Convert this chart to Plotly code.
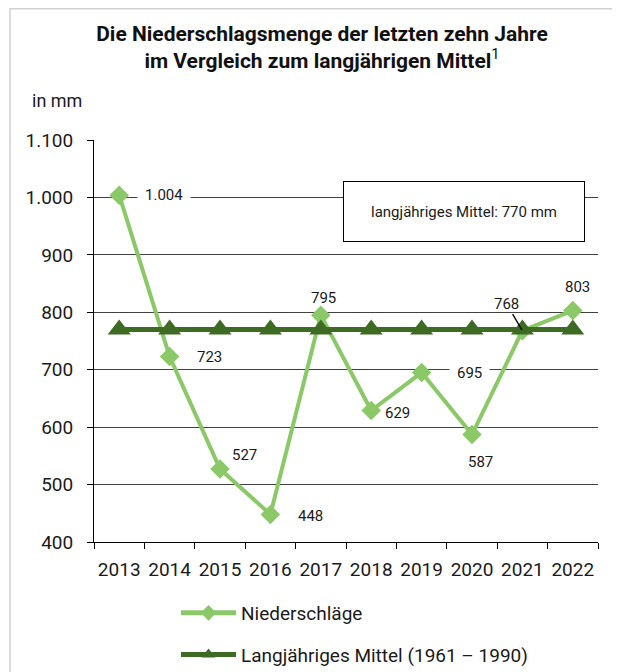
import plotly.graph_objects as go

years = [2013, 2014, 2015, 2016, 2017, 2018, 2019, 2020, 2021, 2022]
year_labels = ["2013", "2014", "2015", "2016", "2017", "2018", "2019", "2020", "2021", "2022"]
niederschlag = [1004, 723, 527, 448, 795, 629, 695, 587, 768, 803]
mittel = [770, 770, 770, 770, 770, 770, 770, 770, 770, 770]
y_tickvals = [400, 500, 600, 700, 800, 900, 1000, 1100]
y_ticktext = ["400", "500", "600", "700", "800", "900", "1.000", "1.100"]

# label offsets in px (dx right, dy down) relative to each point
label_offsets = [(45, 0), (40, 0), (24, -14), (40, 2), (3, -17), (26, 3), (48, 0), (8, 27), None, (5, -24)]
label_bg = [True, False, False, False, False, False, True, False, False, False]

FONT = "Roboto, Liberation Sans, sans-serif"
LIGHT = "#8BC867"
DARK = "#3E6B24"
TXT = "#1a1a1a"

W, H = 612, 664
ML, MR, MT, MB = 86, 22, 132, 130
PW, PH = W - ML - MR, H - MT - MB


def px(xf):
    return (xf - ML) / PW


def py(yf):
    return (H - MB - yf) / PH


def fmt(v):
    return f"{v:,}".replace(",", ".")


fig = go.Figure()
fig.add_trace(go.Scatter(
    x=years, y=niederschlag, name="Niederschläge", mode="lines+markers",
    line=dict(color=LIGHT, width=4),
    marker=dict(symbol="diamond", size=15, color=LIGHT),
    legendgroup="a"))
fig.add_trace(go.Scatter(
    x=years, y=mittel, name="Langjähriges Mittel (1961 – 1990)", mode="lines+markers",
    line=dict(color=DARK, width=5),
    marker=dict(symbol="triangle-up", size=20, color=DARK),
    legendgroup="b"))

annotations = []
for yr, v, off, bg in zip(years, niederschlag, label_offsets, label_bg):
    if off is None:
        annotations.append(dict(
            x=yr, y=v, xref="x", yref="y", text=fmt(v), showarrow=True,
            arrowhead=0, arrowwidth=1.3, arrowcolor="black", ax=-16, ay=-27,
            standoff=1, font=dict(family=FONT, size=15, color=TXT)))
    else:
        annotations.append(dict(
            x=yr, y=v, xref="x", yref="y", text=fmt(v), showarrow=False,
            xshift=off[0], yshift=-off[1],
            bgcolor="white" if bg else "rgba(0,0,0,0)", borderpad=7 if bg else 0,
            font=dict(family=FONT, size=15, color=TXT)))

annotations.append(dict(
    x=px(456), y=py(203), xref="paper", yref="paper",
    xanchor="center", yanchor="middle",
    text="langjähriges Mittel: 770 mm", showarrow=False,
    width=238, height=57, bgcolor="white", bordercolor="black", borderwidth=1,
    font=dict(family=FONT, size=15, color=TXT)))
annotations.append(dict(
    x=px(22), y=py(92), xref="paper", yref="paper",
    xanchor="left", yanchor="middle", text="in mm", showarrow=False,
    font=dict(family=FONT, size=18, color=TXT)))

boundaries = [years[0] - 0.5] + [y + 0.5 for y in years]

fig.update_layout(
    width=W, height=H,
    margin=dict(l=ML, r=MR, t=MT, b=MB, autoexpand=False),
    paper_bgcolor="white", plot_bgcolor="white",
    font=dict(family=FONT, color=TXT),
    title=dict(
        text="<b>Die Niederschlagsmenge der letzten zehn Jahre<br>im Vergleich zum langjährigen Mittel</b><sup>1</sup>",
        x=314 / W, xanchor="center", y=1 - 33 / H, yanchor="top",
        font=dict(family=FONT, size=21, color="#111")),
    showlegend=True,
    legend=dict(
        orientation="v", x=px(168), xanchor="left",
        y=py(586), yanchor="top",
        font=dict(family=FONT, size=19, color=TXT),
        tracegroupgap=14, itemsizing="constant", itemwidth=55,
        bgcolor="rgba(0,0,0,0)"),
    annotations=annotations,
    shapes=[dict(type="rect", xref="paper", yref="paper",
                 x0=px(2), x1=px(700), y0=py(720), y1=py(0.75),
                 line=dict(color="#d0d0d0", width=1.5), layer="below")],
    hovermode=False,
)
fig.update_xaxes(
    range=[years[0] - 0.5, years[-1] + 0.5],
    tickvals=years, ticktext=year_labels, ticks="",
    minor=dict(tickvals=boundaries, ticks="outside", ticklen=6, tickcolor="black", showgrid=False),
    showline=True, linecolor="black", linewidth=1, showgrid=False, zeroline=False,
    tickfont=dict(family=FONT, size=19, color=TXT), ticklabelstandoff=10)
fig.update_yaxes(
    range=[400, 1100], tickvals=y_tickvals, ticktext=y_ticktext,
    ticks="outside", ticklen=6, tickcolor="black",
    showline=True, linecolor="black", linewidth=1,
    showgrid=True, gridcolor="#404040", gridwidth=1, zeroline=False,
    tickfont=dict(family=FONT, size=19, color=TXT), ticklabelstandoff=10)

fig.write_html("out.html")
